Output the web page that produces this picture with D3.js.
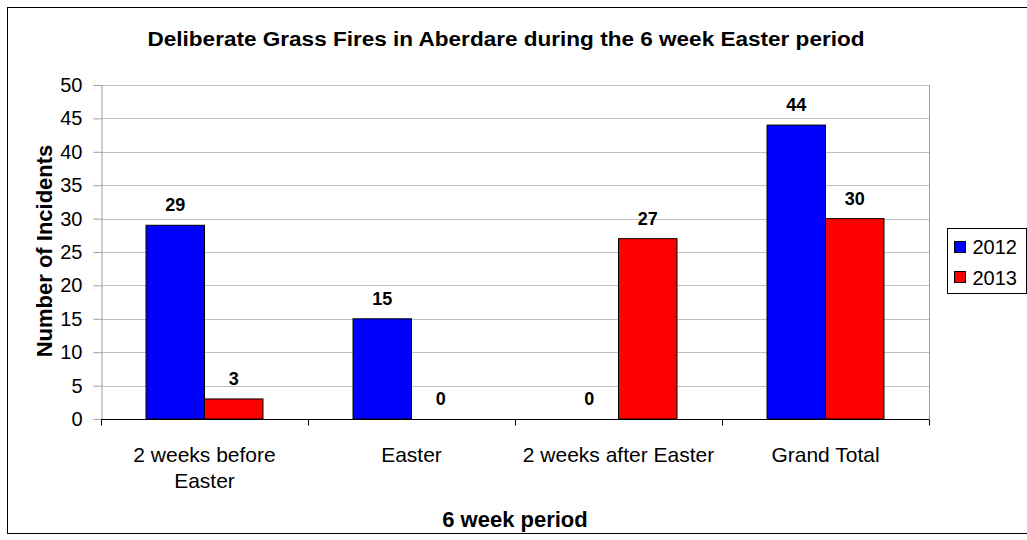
<!DOCTYPE html>
<html>
<head>
<meta charset="utf-8">
<script src="https://cdn.jsdelivr.net/npm/d3@7"></script>
<style>
  body { margin: 0; background: #fff; }
  text { font-family: "Liberation Sans", Arial, sans-serif; }
</style>
</head>
<body>
<div id="chart"></div>
<script>
var categories = [["2 weeks before", "Easter"], ["Easter"], ["2 weeks after Easter"], ["Grand Total"]];
var series = ["2012", "2013"];
var values2012 = [29, 15, 0, 44];
var values2013 = [3, 0, 27, 30];
var yTicks = [0, 5, 10, 15, 20, 25, 30, 35, 40, 45, 50];
var colors = ["#0000ff", "#ff0000"];

var W = 1027, H = 540;
var plot = {left: 101, top: 85, right: 929, bottom: 419};

var svg = d3.select("#chart").append("svg")
    .attr("width", W)
    .attr("height", H);

// outer frame
svg.append("rect")
    .attr("x", 7.5).attr("y", 7.5)
    .attr("width", W).attr("height", 526)
    .attr("fill", "#fff").attr("stroke", "#000").attr("stroke-width", 1);

var x0 = d3.scaleBand()
    .domain(d3.range(categories.length))
    .range([plot.left, plot.right]);
var x1 = d3.scaleBand()
    .domain(series)
    .range([0, x0.bandwidth()])
    .paddingOuter(0.77);
var y = d3.scaleLinear()
    .domain([0, 50])
    .range([plot.bottom, plot.top]);

// gridlines
svg.append("g").selectAll("line")
    .data(yTicks.filter(function (d) { return d > 0; }))
    .enter().append("line")
    .attr("x1", plot.left).attr("x2", plot.right)
    .attr("y1", function (d) { return Math.round(y(d)) + 0.5; })
    .attr("y2", function (d) { return Math.round(y(d)) + 0.5; })
    .attr("stroke", "#c0c0c0");

// right plot edge
svg.append("line")
    .attr("x1", plot.right + 0.5).attr("x2", plot.right + 0.5)
    .attr("y1", plot.top).attr("y2", plot.bottom)
    .attr("stroke", "#a0a0a0");

// y axis
var yAxis = svg.append("g")
    .attr("transform", "translate(" + (plot.left + 0.5) + ",0)")
    .call(d3.axisLeft(y).tickValues(yTicks).tickSize(8).tickPadding(11));
yAxis.select(".domain").attr("stroke", "#a0a0a0");
yAxis.selectAll(".tick line").attr("stroke", "#a0a0a0");
yAxis.selectAll("text")
    .attr("font-size", 20).attr("fill", "#000")
    .style("font-family", "'Liberation Sans', Arial, sans-serif");

// bars
var groups = svg.append("g").selectAll("g")
    .data(categories)
    .enter().append("g")
    .attr("transform", function (d, i) { return "translate(" + x0(i) + ",0)"; });

var barData = function (d, i) {
    return [{s: "2012", v: values2012[i], c: colors[0]}, {s: "2013", v: values2013[i], c: colors[1]}];
};

groups.selectAll("rect")
    .data(barData)
    .enter().append("rect")
    .filter(function (d) { return d.v > 0; })
    .attr("x", function (d) { return x1(d.s); })
    .attr("y", function (d) { return y(d.v); })
    .attr("width", x1.bandwidth())
    .attr("height", function (d) { return y(0) - y(d.v); })
    .attr("fill", function (d) { return d.c; })
    .attr("stroke", "#000")
    .attr("stroke-width", 1);

groups.selectAll("text.val")
    .data(barData)
    .enter().append("text")
    .attr("class", "val")
    .attr("x", function (d) { return x1(d.s) + x1.bandwidth() / 2; })
    .attr("y", function (d) { return y(d.v) - 14; })
    .attr("text-anchor", "middle")
    .attr("font-size", 18)
    .attr("font-weight", "bold")
    .text(function (d) { return d.v; });

// x axis
var xAxis = svg.append("g")
    .attr("transform", "translate(0," + (plot.bottom + 0.5) + ")");
xAxis.append("line")
    .attr("x1", plot.left).attr("x2", plot.right)
    .attr("stroke", "#000");
xAxis.selectAll("line.tick")
    .data(d3.range(categories.length + 1))
    .enter().append("line")
    .attr("class", "tick")
    .attr("x1", function (i) { return Math.round(plot.left + i * x0.bandwidth()) + 0.5; })
    .attr("x2", function (i) { return Math.round(plot.left + i * x0.bandwidth()) + 0.5; })
    .attr("y1", 0).attr("y2", 6)
    .attr("stroke", "#000");

xAxis.selectAll("text")
    .data(categories)
    .enter().append("text")
    .attr("text-anchor", "middle")
    .attr("font-size", 21)
    .attr("transform", function (d, i) { return "translate(" + (x0(i) + x0.bandwidth() / 2) + ",42)"; })
    .selectAll("tspan")
    .data(function (d) { return d; })
    .enter().append("tspan")
    .attr("x", 0)
    .attr("dy", function (d, j) { return j === 0 ? 0 : 26; })
    .text(function (d) { return d; });

// titles
svg.append("text")
    .attr("x", 506).attr("y", 46)
    .attr("text-anchor", "middle")
    .attr("font-size", 20).attr("font-weight", "bold")
    .attr("textLength", 717).attr("lengthAdjust", "spacingAndGlyphs")
    .text("Deliberate Grass Fires in Aberdare during the 6 week Easter period");

svg.append("text")
    .attr("x", 515).attr("y", 527)
    .attr("text-anchor", "middle")
    .attr("font-size", 22).attr("font-weight", "bold")
    .text("6 week period");

svg.append("text")
    .attr("transform", "translate(52,251) rotate(-90)")
    .attr("text-anchor", "middle")
    .attr("font-size", 22).attr("font-weight", "bold")
    .text("Number of Incidents");

// legend
var legend = svg.append("g").attr("transform", "translate(947.5,228.5)");
legend.append("rect")
    .attr("width", 79).attr("height", 65)
    .attr("fill", "#fff").attr("stroke", "#000");
legend.selectAll("rect.sw")
    .data(series)
    .enter().append("rect")
    .attr("class", "sw")
    .attr("x", 7).attr("y", function (d, i) { return 13 + i * 30; })
    .attr("width", 11).attr("height", 11)
    .attr("fill", function (d, i) { return colors[i]; })
    .attr("stroke", "#000");
legend.selectAll("text")
    .data(series)
    .enter().append("text")
    .attr("x", 25).attr("y", function (d, i) { return 25 + i * 31; })
    .attr("font-size", 20)
    .text(function (d) { return d; });
</script>
</body>
</html>
